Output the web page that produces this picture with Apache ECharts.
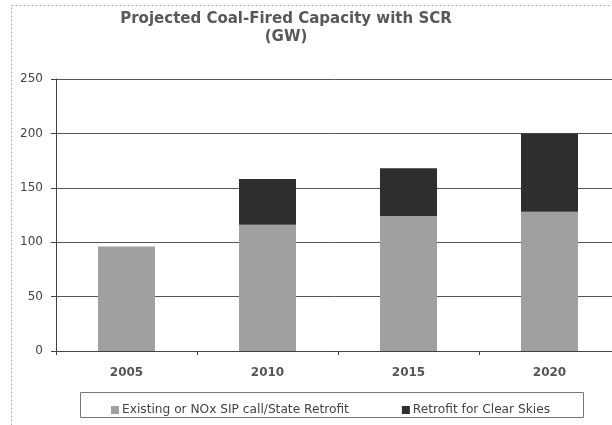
<!DOCTYPE html>
<html>
<head>
    <meta charset="utf-8"/>
    <title>Projected Coal-Fired Capacity with SCR</title>
    <script src="https://cdn.jsdelivr.net/npm/echarts@6/dist/echarts.min.js"></script>
    <style>
        html, body { margin: 0; padding: 0; background: #fff; }
        #main { width: 612px; height: 425px; }
    </style>
</head>
<body>
<div id="main"></div>
<script>
    // 数据
    var years = ['2005', '2010', '2015', '2020'];
    var existing = [96, 116, 124, 128];
    var retrofit = [0, 42, 44, 72];
    var seriesNames = ['Existing or NOx SIP call/State Retrofit', 'Retrofit for Clear Skies'];
    var yTicks = [0, 50, 100, 150, 200, 250];

    var chart = echarts.init(document.getElementById('main'));
    var font = 'DejaVu Sans, Verdana, sans-serif';

    var option = {
        backgroundColor: '#fff',
        animation: false,
        title: {
            text: 'Projected Coal-Fired Capacity with SCR\n(GW)',
            left: 281,
            top: 5,
            textAlign: 'center',
            textStyle: {
                fontFamily: font,
                fontSize: 15,
                fontWeight: 'bold',
                color: '#585858',
                lineHeight: 18
            }
        },
        graphic: [
            {   // 外框
                type: 'rect',
                shape: { x: 11.5, y: 5.5, width: 700, height: 500 },
                style: { fill: 'none', stroke: '#aaa', lineWidth: 1, lineDash: [2, 2] },
                silent: true
            },
            {   // 图例框
                type: 'rect',
                shape: { x: 80.5, y: 392.5, width: 503, height: 25 },
                style: { fill: 'none', stroke: '#777', lineWidth: 1 },
                silent: true
            }
        ],
        legend: {
            data: seriesNames,
            left: 106,
            top: 399,
            itemWidth: 8,
            itemHeight: 8,
            itemGap: 53,
            icon: 'rect',
            textStyle: { fontFamily: font, fontSize: 12.2, color: '#444', padding: [0, 0, 0, -2] }
        },
        grid: {
            left: 56,
            width: 564,
            top: 79,
            bottom: 74,
            outerBoundsMode: 'none',
            containLabel: false
        },
        xAxis: {
            type: 'category',
            data: years,
            axisLine: { lineStyle: { color: '#444', width: 1 } },
            axisTick: { show: true, length: 4, lineStyle: { color: '#444' } },
            axisLabel: {
                fontFamily: font,
                fontSize: 12,
                fontWeight: 'bold',
                color: '#555',
                margin: 16
            }
        },
        yAxis: {
            type: 'value',
            min: yTicks[0],
            max: yTicks[yTicks.length - 1],
            interval: 50,
            axisLine: { show: true, lineStyle: { color: '#444', width: 1 } },
            axisTick: { show: true, length: 5, lineStyle: { color: '#444' } },
            axisLabel: {
                fontFamily: font,
                fontSize: 12,
                color: '#444',
                margin: 13
            },
            splitLine: { show: true, lineStyle: { color: '#555', width: 1 } }
        },
        series: [
            {
                name: seriesNames[0],
                type: 'bar',
                stack: 'total',
                barWidth: 57,
                data: existing,
                itemStyle: { color: '#a0a0a0' }
            },
            {
                name: seriesNames[1],
                type: 'bar',
                stack: 'total',
                barWidth: 57,
                data: retrofit,
                itemStyle: { color: '#2e2e2e' }
            }
        ]
    };

    chart.setOption(option);

    window.onresize = function () {
        chart.resize();
    };
</script>
</body>
</html>
